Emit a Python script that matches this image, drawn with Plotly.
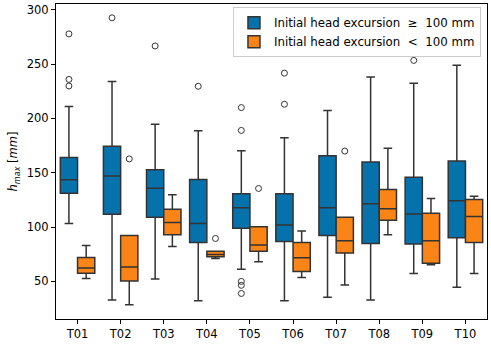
import plotly.graph_objects as go

tests = ["T01", "T02", "T03", "T04", "T05", "T06", "T07", "T08", "T09", "T10"]

# Initial head excursion >= 100 mm
hi_low = [103.3, 32.8, 52.1, 32.2, 61.1, 32.2, 35.5, 32.8, 57.2, 44.6]
hi_q1 = [131.0, 111.7, 109.0, 85.8, 98.8, 86.7, 92.2, 84.9, 84.3, 90.1]
hi_med = [143.4, 147.0, 135.8, 103.3, 117.8, 101.8, 117.8, 121.4, 112.0, 124.1]
hi_q3 = [163.9, 174.4, 152.7, 143.7, 130.7, 130.7, 165.7, 159.9, 145.8, 160.8]
hi_high = [210.8, 234.0, 194.6, 188.6, 170.2, 182.2, 207.2, 238.0, 232.2, 248.8]
hi_outliers = [[277.7, 235.8, 229.8], [292.5], [266.6], [229.5],
               [209.9, 188.9, 50.0, 46.4, 38.9], [241.6, 213.0], [], [], [253.3], []]

# Initial head excursion < 100 mm
lo_low = [52.7, 28.6, 82.2, 71.1, 68.0, 53.6, 46.7, 93.0, 65.4, 57.2]
lo_q1 = [57.5, 50.3, 92.8, 72.6, 77.7, 59.0, 76.2, 106.3, 66.6, 85.8]
lo_med = [62.3, 63.3, 104.2, 74.7, 83.5, 71.7, 87.3, 116.9, 87.3, 109.6]
lo_q3 = [72.0, 92.2, 116.3, 77.7, 100.3, 85.8, 109.0, 134.6, 112.7, 125.3]
lo_high = [83.1, 92.2, 129.8, 77.7, 100.3, 96.4, 109.0, 172.6, 126.2, 128.3]
lo_outliers = [[], [162.7], [], [89.5], [135.5], [], [169.9], [], [], []]

BLUE = "#0672AC"
ORANGE = "#FB8416"
EDGE = "#333333"
FONT = "DejaVu Sans"

pos = list(range(len(tests)))

fig = go.Figure()
for name, color, low, q1, med, q3, high in [
    ("Initial head excursion\u00a0\u00a0≥\u00a0\u00a0100 mm", BLUE, hi_low, hi_q1, hi_med, hi_q3, hi_high),
    ("Initial head excursion\u00a0\u00a0<\u00a0\u00a0100 mm", ORANGE, lo_low, lo_q1, lo_med, lo_q3, lo_high),
]:
    fig.add_trace(go.Box(
        x=pos, q1=q1, median=med, q3=q3, lowerfence=low, upperfence=high,
        name=name, fillcolor=color, line=dict(color=EDGE, width=1.5),
        whiskerwidth=0.5, boxpoints=False,
    ))

for outs, offs in [(hi_outliers, -0.2), (lo_outliers, 0.2)]:
    xs, ys = [], []
    for i, vals in enumerate(outs):
        for v in vals:
            xs.append(i + offs)
            ys.append(v)
    fig.add_trace(go.Scatter(
        x=xs, y=ys, mode="markers", showlegend=False,
        marker=dict(symbol="circle-open", size=6, color=EDGE, line=dict(width=1)),
        hoverinfo="y",
    ))

fig.update_layout(
    width=491, height=344,
    margin=dict(l=56, r=3, t=3, b=20),
    paper_bgcolor="white", plot_bgcolor="white",
    boxmode="group", boxgap=0.2, boxgroupgap=0.0,
    font=dict(family=FONT, size=11.5, color="black"),
    legend=dict(
        x=0.986, y=0.99, xanchor="right", yanchor="top",
        bgcolor="rgba(255,255,255,0.8)", bordercolor="#cccccc", borderwidth=1,
        font=dict(family=FONT, size=11.8), tracegroupgap=0,
    ),
    xaxis=dict(
        range=[-0.5, 9.5], tickmode="array", tickvals=pos, ticktext=tests,
        showline=True, mirror=True, linecolor="black", linewidth=1,
        ticks="outside", ticklen=4, tickcolor="black", showgrid=False, zeroline=False,
    ),
    yaxis=dict(
        range=[15.4, 305.2], tickvals=[50, 100, 150, 200, 250, 300],
        showline=True, mirror=True, linecolor="black", linewidth=1,
        ticks="outside", ticklen=4, tickcolor="black", showgrid=False, zeroline=False,
        title=dict(text="<i>h<sub>max</sub></i> [<i>mm</i>]", standoff=6, font=dict(size=11.5)),
    ),
)

fig.write_html(
    "out.html",
    config={"displayModeBar": False},
    post_script="document.body.style.margin='0';document.body.style.overflow='hidden';",
)
